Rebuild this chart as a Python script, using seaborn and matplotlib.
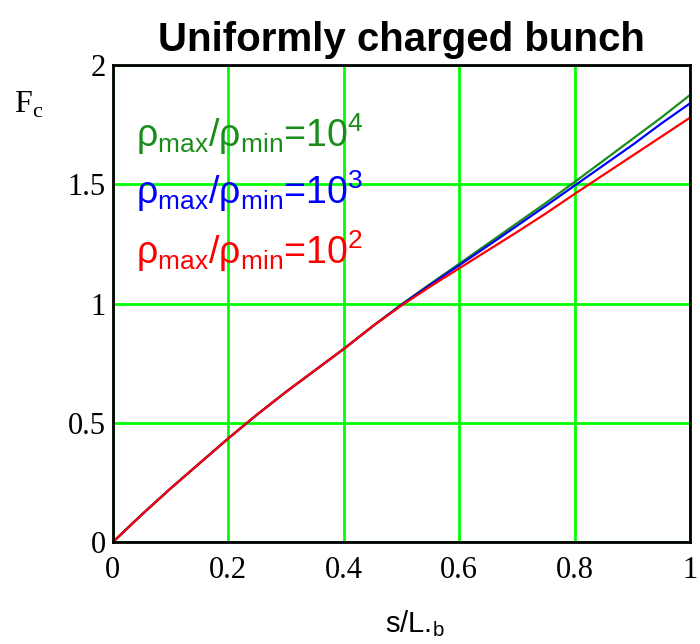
import pandas as pd
import matplotlib.pyplot as plt
import seaborn as sns

# values
s = [0.0, 0.05, 0.1, 0.15, 0.2, 0.25, 0.3, 0.35, 0.4, 0.45, 0.5,
     0.55, 0.6, 0.65, 0.7, 0.75, 0.8, 0.85, 0.9, 0.95, 1.0]
common = [0.0, 0.115, 0.225, 0.33, 0.435, 0.535, 0.63, 0.72, 0.81, 0.905]
fc_1e4 = common + [0.997, 1.083, 1.167, 1.252, 1.337, 1.422, 1.51, 1.60, 1.69, 1.78, 1.875]
fc_1e3 = common + [0.995, 1.079, 1.161, 1.243, 1.326, 1.41, 1.495, 1.58, 1.665, 1.755, 1.84]
fc_1e2 = common + [0.992, 1.072, 1.148, 1.224, 1.30, 1.378, 1.46, 1.54, 1.62, 1.70, 1.78]

ratios = ["1e4", "1e3", "1e2"]
labels = [r"$\mathregular{\rho_{max}/\rho_{min}}$=10$^{\mathregular{4}}$",
          r"$\mathregular{\rho_{max}/\rho_{min}}$=10$^{\mathregular{3}}$",
          r"$\mathregular{\rho_{max}/\rho_{min}}$=10$^{\mathregular{2}}$"]
colors = ["#1a8c1a", "#0000ff", "#ff0000"]

df = pd.concat([
    pd.DataFrame({"s": s, "Fc": fc_1e4, "ratio": "1e4"}),
    pd.DataFrame({"s": s, "Fc": fc_1e3, "ratio": "1e3"}),
    pd.DataFrame({"s": s, "Fc": fc_1e2, "ratio": "1e2"}),
])

sns.set_style("white")
plt.rcParams["font.family"] = ["Liberation Sans", "DejaVu Sans"]
plt.rcParams["text.color"] = "black"
plt.rcParams["xtick.color"] = "black"
plt.rcParams["ytick.color"] = "black"
plt.rcParams["mathtext.fontset"] = "custom"
plt.rcParams["mathtext.rm"] = "Liberation Sans"
plt.rcParams["mathtext.it"] = "Liberation Sans"

fig = plt.figure(figsize=(7, 6.44), dpi=100)
ax = fig.add_axes([0.161, 0.158, 0.825, 0.741])

sns.lineplot(data=df, x="s", y="Fc", hue="ratio", hue_order=ratios,
             palette=dict(zip(ratios, colors)), linewidth=1.6, legend=False, ax=ax)

ax.set_xlim(0, 1)
ax.set_ylim(0, 2)
ax.set_xticks([0, 0.2, 0.4, 0.6, 0.8, 1])
ax.set_xticklabels(["0", "0.2", "0.4", "0.6", "0.8", "1"])
ax.set_yticks([0, 0.5, 1, 1.5, 2])
ax.set_yticklabels(["0", "0.5", "1", "1.5", "2"])
ax.grid(True, color="#00ff00", linewidth=2)
ax.tick_params(axis="x", length=0, labelsize=22, pad=10)
ax.tick_params(axis="y", length=0, labelsize=22, pad=5)
for lab in ax.get_xticklabels() + ax.get_yticklabels():
    lab.set_family("Liberation Serif")
for sp in ax.spines.values():
    sp.set_color("black")
    sp.set_linewidth(2)

ax.set_xlabel("")
ax.set_ylabel("")
fig.text(0.593, 0.019, r"s/L.$_{\mathregular{b}}$", fontsize=21, ha="center",
         va="baseline", family="Liberation Sans")
fig.text(0.02, 0.825, r"F$_{\mathregular{c}}$", fontsize=23, family="Liberation Serif")

ax.set_title("Uniformly charged bunch", fontsize=29, fontweight="bold", pad=10)

ypos = [0.855, 0.735, 0.61]
for lab, c, y in zip(labels, colors, ypos):
    ax.text(0.04, y, lab, color=c, fontsize=27, transform=ax.transAxes, va="center")

fig.savefig("out.png", dpi=100)
